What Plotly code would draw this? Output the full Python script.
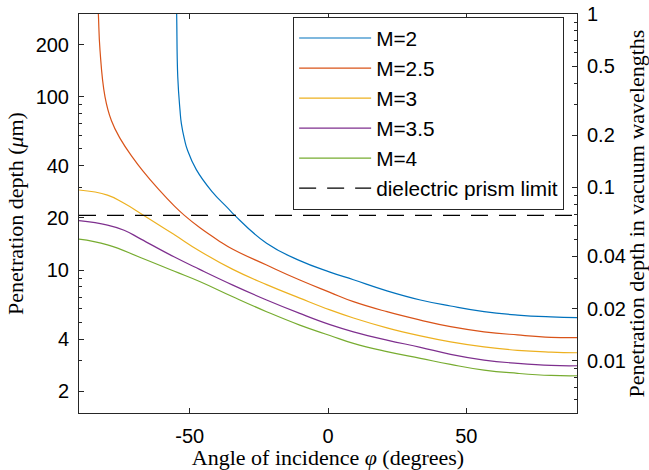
import plotly.graph_objects as go
import math

# ---- data ----
WAVELENGTH_UM = 300.0
PRISM_LIMIT_UM = 20.7

ANGLE_M2 = [-54.9, -54.7, -54.3, -53.5, -53.0, -51.9, -50.8, -47.6, -42.0, -36.2, -33.7, -22.2, -10.2, 0.7, 9.2, 21.3, 33.4, 44.3, 56.4, 68.5, 80.6, 90]
DEPTH_M2 = [420, 300, 130, 84, 70, 57, 49.3, 38, 28.5, 22.8, 20.7, 14.3, 11.35, 9.75, 8.8, 7.6, 6.73, 6.21, 5.76, 5.51, 5.38, 5.33]

ANGLE_M25 = [-83.4, -83.0, -82.4, -80.6, -78.3, -75.0, -70.3, -67.0, -61.2, -55.5, -51.9, -46.4, -39.8, -34.4, -22.2, -10.2, 0.7, 9.2, 21.3, 33.4, 44.3, 56.4, 68.5, 80.6, 90]
DEPTH_M25 = [420, 300, 185, 100, 73, 57, 44.0, 37.5, 29.2, 23.4, 20.7, 17.6, 14.9, 13.2, 10.7, 8.77, 7.45, 6.58, 5.76, 5.15, 4.72, 4.41, 4.23, 4.10, 4.08]

ANGLE_M3 = [-90, -79.7, -73.7, -67.0, -55.5, -46.4, -34.4, -22.2, -10.2, 0.7, 9.2, 21.3, 33.4, 44.3, 56.4, 68.5, 80.6, 90]
DEPTH_M3 = [29.0, 27.1, 24.3, 20.9, 16.0, 12.9, 10.1, 8.25, 6.9, 5.9, 5.3, 4.65, 4.18, 3.86, 3.61, 3.45, 3.37, 3.34]

ANGLE_M35 = [-90, -79.7, -73.7, -67.6, -55.5, -46.4, -34.4, -22.2, -10.2, 0.7, 9.2, 21.3, 33.4, 44.3, 56.4, 68.5, 80.6, 90]
DEPTH_M35 = [19.3, 18.2, 17.0, 15.1, 11.9, 10.1, 8.2, 6.73, 5.63, 4.85, 4.41, 3.95, 3.59, 3.27, 3.03, 2.9, 2.82, 2.81]

ANGLE_M4 = [-90, -79.7, -67.6, -55.5, -46.4, -34.4, -22.2, -10.2, 0.7, 9.2, 21.3, 33.4, 44.3, 56.4, 68.5, 80.6, 90]
DEPTH_M4 = [15.1, 14.0, 11.8, 9.85, 8.6, 7.02, 5.76, 4.82, 4.2, 3.78, 3.39, 3.1, 2.86, 2.65, 2.54, 2.47, 2.46]

PRISM_ANGLE = [-90, 90]
PRISM_DEPTH = [PRISM_LIMIT_UM, PRISM_LIMIT_UM]

SERIES_NAMES = ["M=2", "M=2.5", "M=3", "M=3.5", "M=4"]
SERIES_COLORS = ["#0072BD", "#D95319", "#EDB120", "#7E2F8E", "#77AC30"]

X_TICKS = [-50, 0, 50]
X_TICKTEXT = ["-50", "0", "50"]
Y_TICKS = [2, 4, 10, 20, 40, 100, 200]
Y_MINOR = [3, 5, 6, 7, 8, 9, 30, 50, 60, 70, 80, 90]
Y2_TICKS = [0.01, 0.02, 0.04, 0.1, 0.2, 0.5, 1]
Y2_TICKTEXT = ["0.01", "0.02", "0.04", "0.1", "0.2", "0.5", "1"]
Y2_MINOR = [0.006, 0.007, 0.008, 0.009, 0.03, 0.05, 0.06, 0.07, 0.08, 0.09, 0.3, 0.4, 0.6, 0.7, 0.8, 0.9]

Y_MIN_UM = 1.5
Y_MAX_UM = 300.0

# ---- figure ----
AX = "#262626"
SANS = "Liberation Sans, Arial, sans-serif"
SERIF = "Liberation Serif, Times New Roman, serif"
TICK_SIZE = 20
TITLE_SIZE = 22

fig = go.Figure()
series = [(ANGLE_M2, DEPTH_M2), (ANGLE_M25, DEPTH_M25), (ANGLE_M3, DEPTH_M3),
          (ANGLE_M35, DEPTH_M35), (ANGLE_M4, DEPTH_M4)]
for (xs, ys), name, col in zip(series, SERIES_NAMES, SERIES_COLORS):
    fig.add_trace(go.Scatter(x=xs, y=ys, name=name, mode="lines",
                             line=dict(color=col, width=1.2, shape="spline", smoothing=1.3)))
fig.add_trace(go.Scatter(x=PRISM_ANGLE, y=PRISM_DEPTH, name="dielectric prism limit", mode="lines",
                         line=dict(color="black", width=1.2, dash="17px,11px")))
# invisible trace on the wavelength axis so that it is rendered
fig.add_trace(go.Scatter(x=[0], y=[Y2_TICKS[3]], yaxis="y2", mode="markers",
                         marker=dict(opacity=0), showlegend=False, hoverinfo="skip"))

lo = math.log10(Y_MIN_UM)
hi = math.log10(Y_MAX_UM) + 0.0004

fig.update_layout(
    width=649, height=470,
    margin=dict(l=79, r=72, t=14, b=57),
    plot_bgcolor="white", paper_bgcolor="white",
    showlegend=True,
    legend=dict(x=0.43, y=0.9925, xanchor="left", yanchor="top",
                bgcolor="white", bordercolor=AX, borderwidth=1,
                font=dict(family=SANS, size=20.8, color="black"),
                itemwidth=72, traceorder="normal"),
    xaxis=dict(range=[-90, 90], tickvals=X_TICKS, ticktext=X_TICKTEXT, ticks="inside", ticklen=5,
               tickcolor=AX, showline=True, linecolor=AX, linewidth=1, mirror="ticks",
               showgrid=False, zeroline=False, automargin=False,
               tickfont=dict(family=SANS, size=TICK_SIZE, color="black"), ticklabelstandoff=5,
               title=dict(text="Angle of incidence <i>φ</i> (degrees)",
                          font=dict(family=SERIF, size=TITLE_SIZE, color="black"), standoff=6)),
    yaxis=dict(type="log", range=[lo, hi], tickvals=Y_TICKS, ticks="inside", ticklen=5, tickcolor=AX,
               showline=True, linecolor=AX, linewidth=1, showgrid=False, zeroline=False,
               automargin=False,
               minor=dict(tickvals=Y_MINOR, ticks="inside", ticklen=3, tickcolor=AX, showgrid=False),
               tickfont=dict(family=SANS, size=TICK_SIZE, color="black"), ticklabelstandoff=5,
               title=dict(text="Penetration depth (<i>μ</i>m)",
                          font=dict(family=SERIF, size=TITLE_SIZE, color="black"), standoff=5)),
    yaxis2=dict(type="log", overlaying="y", side="right",
                range=[lo - math.log10(WAVELENGTH_UM), hi - math.log10(WAVELENGTH_UM)],
                tickvals=Y2_TICKS, ticktext=Y2_TICKTEXT, ticks="inside", ticklen=5, tickcolor=AX,
                showline=True, linecolor=AX, linewidth=1, showgrid=False, zeroline=False,
                automargin=False, ticklabeloverflow="allow",
                minor=dict(tickvals=Y2_MINOR, ticks="inside", ticklen=3, tickcolor=AX, showgrid=False),
                tickfont=dict(family=SANS, size=TICK_SIZE, color="black"), ticklabelstandoff=5,
                title=dict(text="Penetration depth in vacuum wavelengths",
                           font=dict(family=SERIF, size=TITLE_SIZE, color="black"), standoff=2)),
)

# remove the browser's default page margin so the figure sits at the window's corner
fig.write_html("out.html", config={"displayModeBar": False},
               post_script="document.body.style.margin='0';")
